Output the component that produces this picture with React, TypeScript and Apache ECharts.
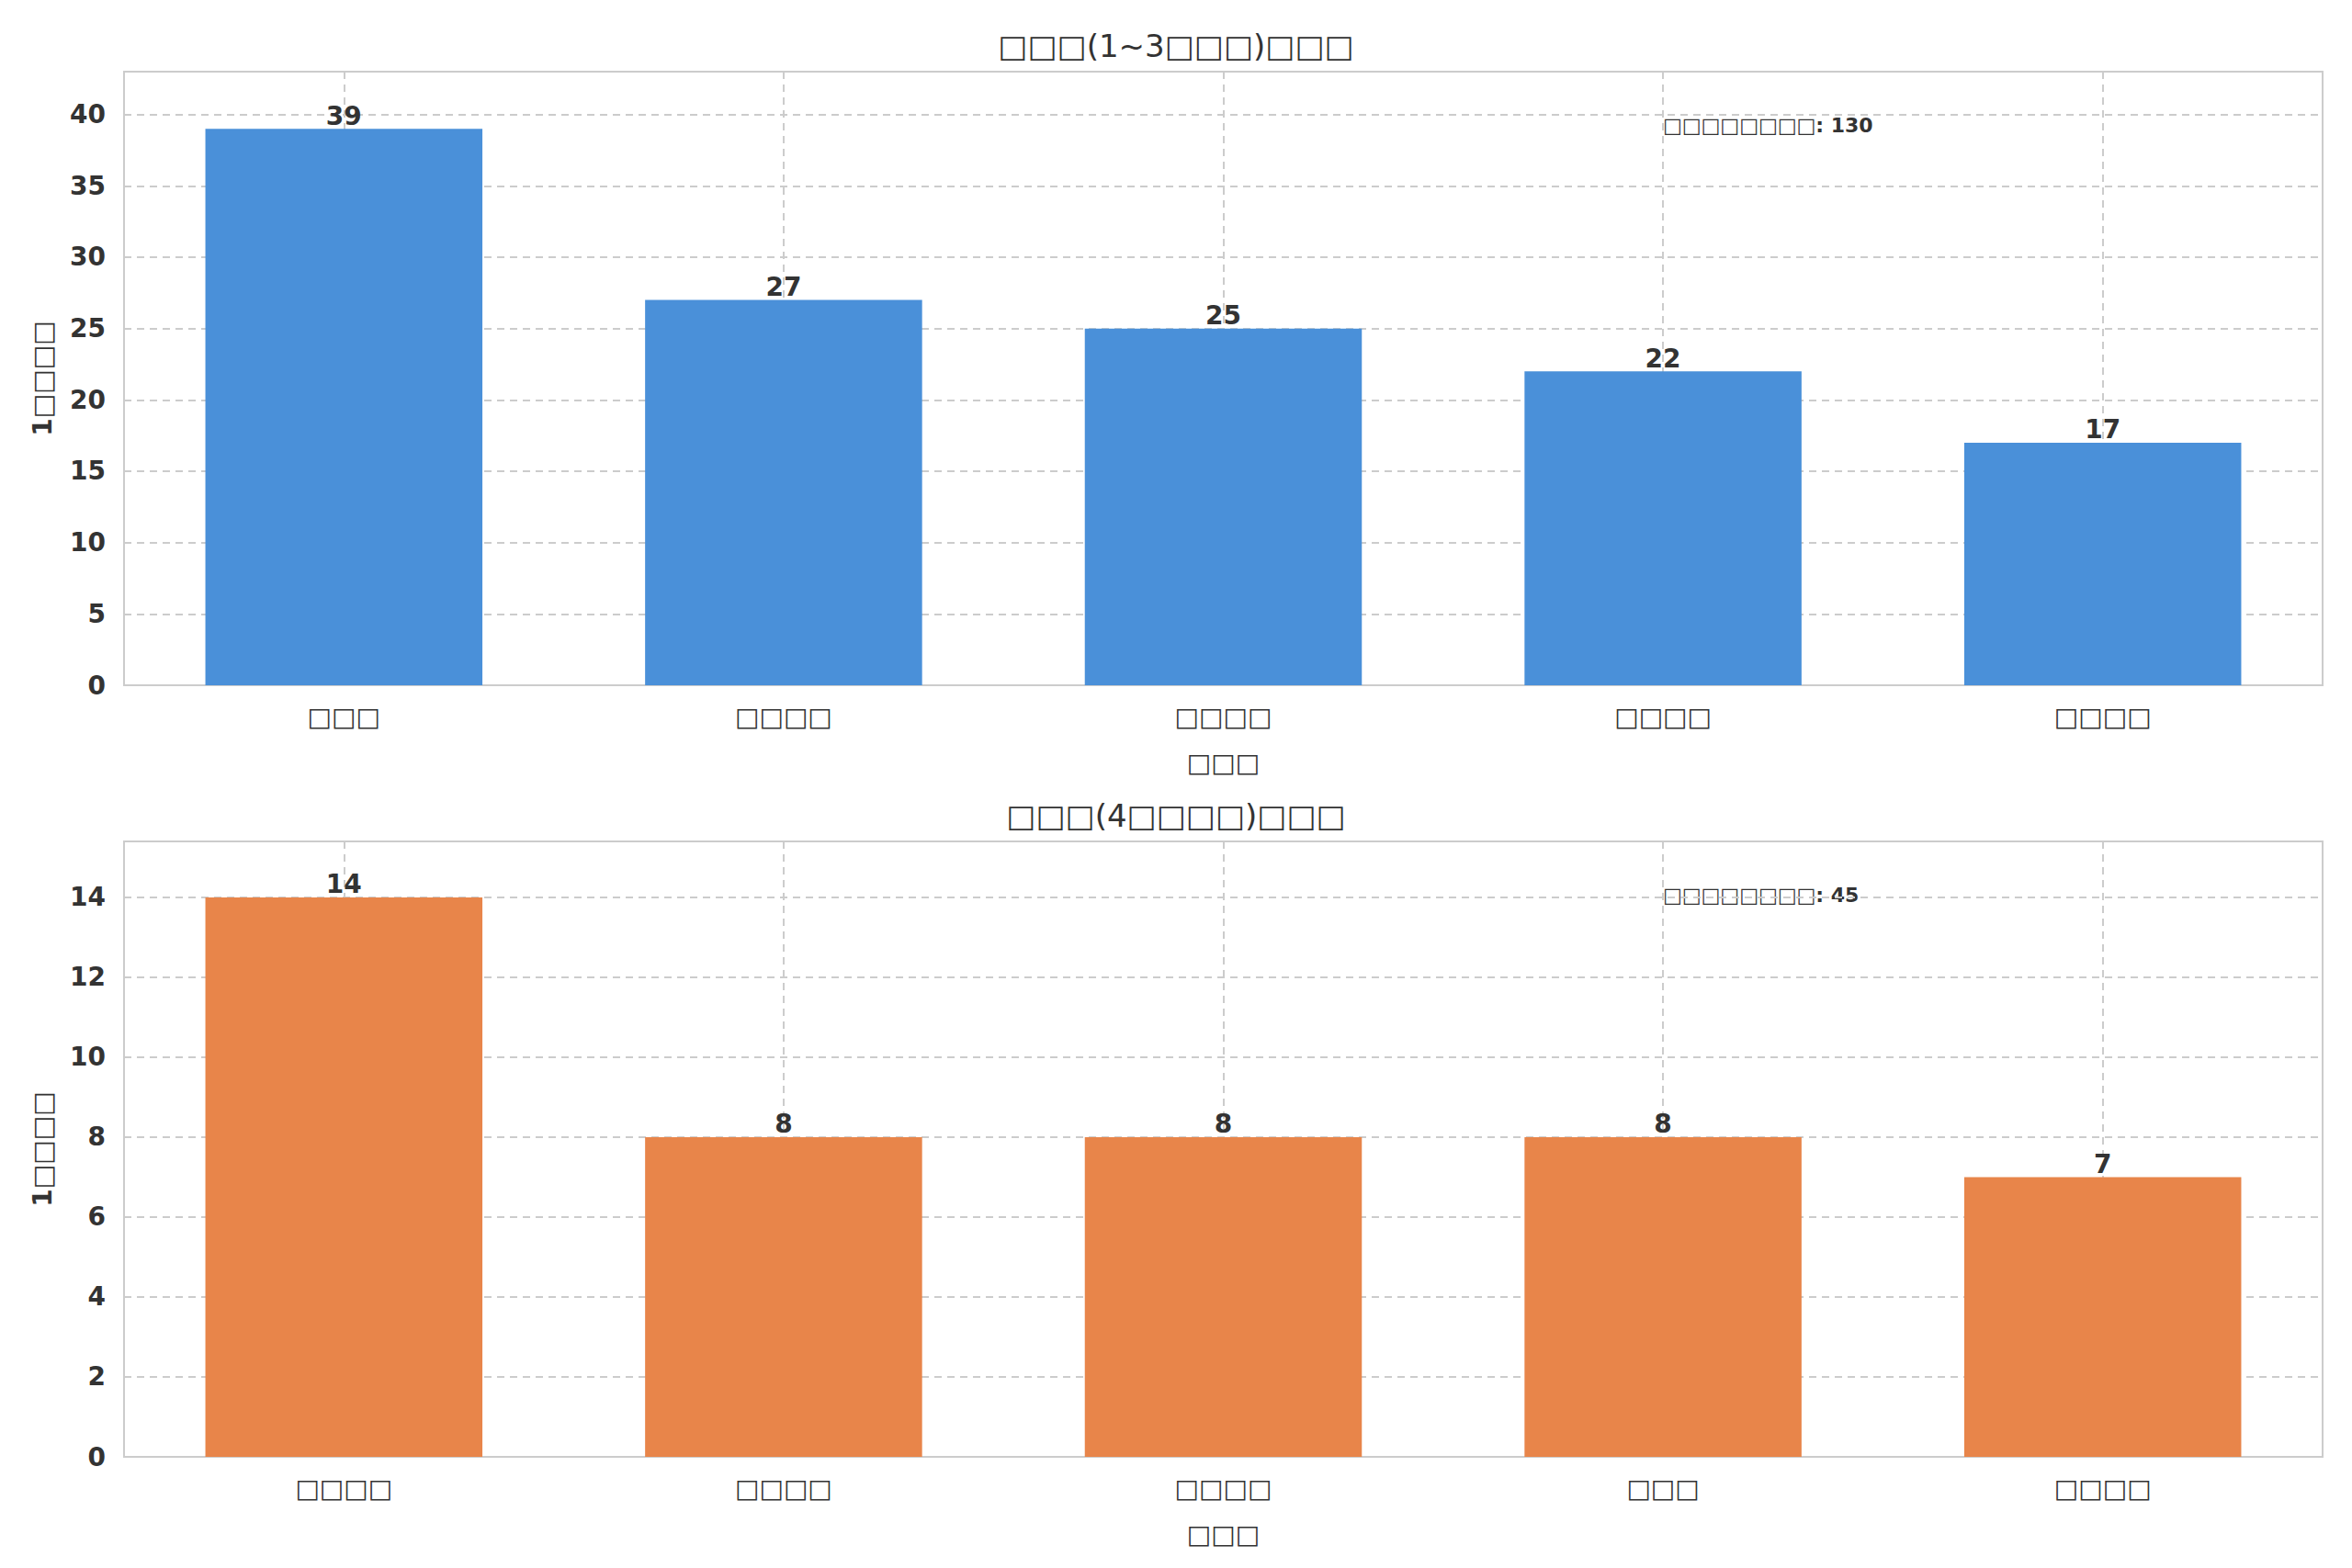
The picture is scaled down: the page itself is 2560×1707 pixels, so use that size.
import React, { useEffect, useRef } from "react";
import * as echarts from "echarts";

const T = "□";
const catsTop = [T.repeat(3), T.repeat(4), T.repeat(4), T.repeat(4), T.repeat(4)];
const valsTop = [39, 27, 25, 22, 17];
const catsBot = [T.repeat(4), T.repeat(4), T.repeat(4), T.repeat(3), T.repeat(4)];
const valsBot = [14, 8, 8, 8, 7];
const titleTop = T.repeat(3) + "(1~3" + T.repeat(3) + ")" + T.repeat(3);
const titleBot = T.repeat(3) + "(4" + T.repeat(4) + ")" + T.repeat(3);
const yName = "1" + T.repeat(4);
const xName = T.repeat(3);
const noteTop = T.repeat(8) + ": 130";
const noteBot = T.repeat(8) + ": 45";

const font = "DejaVu Sans";
const dash = { type: [8, 6] as any, color: "#cccccc", width: 2 };

export default function App() {
  const ref = useRef<HTMLDivElement>(null);
  useEffect(() => {
    const chart = echarts.init(ref.current!, null, { renderer: "svg" });
    const grids = [
      { left: 135, right: 32, top: 78, height: 668 },
      { left: 135, right: 32, top: 916, height: 670 },
    ];
    const xAxis = (cats: string[], i: number) => ({
      type: "category", gridIndex: i, data: cats,
      name: xName, nameLocation: "middle", nameGap: 70,
      nameTextStyle: { fontSize: 28, color: "#333", fontFamily: font },
      axisLine: { lineStyle: { color: "#cccccc", width: 2 } },
      axisTick: { show: false, alignWithLabel: true },
      axisLabel: { fontSize: 28, color: "#333", margin: 20, fontFamily: font },
      splitLine: { show: true, alignWithLabel: true, lineStyle: dash },
    });
    const yAxis = (max: number, interval: number, i: number) => ({
      type: "value", gridIndex: i, min: 0, max, interval,
      name: yName, nameLocation: "middle", nameGap: 75,
      nameTextStyle: { fontSize: 28, color: "#333", fontWeight: "bold", fontFamily: font },
      axisLine: { show: false }, axisTick: { show: false },
      axisLabel: { fontSize: 28, color: "#333", fontWeight: "bold", showMaxLabel: false, fontFamily: font, margin: 20 },
      splitLine: { lineStyle: dash },
    });
    const series = (vals: number[], color: string, i: number) => ({
      type: "bar", xAxisIndex: i, yAxisIndex: i, data: vals, barWidth: "63%",
      itemStyle: { color },
      label: { show: true, position: "top", distance: 0, fontSize: 28, fontWeight: "bold", color: "#333", fontFamily: font },
    });
    chart.setOption({
      animation: false,
      textStyle: { fontFamily: font },
      title: [
        { text: titleTop, left: "center", top: 28, textStyle: { fontSize: 34, fontWeight: "normal", color: "#333", fontFamily: font } },
        { text: titleBot, left: "center", top: 866, textStyle: { fontSize: 34, fontWeight: "normal", color: "#333", fontFamily: font } },
      ],
      grid: grids.map((g) => ({ ...g, show: true, borderColor: "#cccccc", borderWidth: 2 })),
      xAxis: [xAxis(catsTop, 0), xAxis(catsBot, 1)],
      yAxis: [yAxis(43, 5, 0), yAxis(15.4, 2, 1)],
      series: [series(valsTop, "#4A90D9", 0), series(valsBot, "#E8854A", 1)],
      graphic: [
        { type: "text", left: 1810, top: 125, style: { text: noteTop, fontSize: 22, fontWeight: "bold", fill: "#333", fontFamily: font } },
        { type: "text", left: 1810, top: 963, style: { text: noteBot, fontSize: 22, fontWeight: "bold", fill: "#333", fontFamily: font } },
      ],
    });
    return () => chart.dispose();
  }, []);
  return <div ref={ref} style={{ position: "absolute", left: 0, top: 0, width: 2560, height: 1707, background: "#fff" }} />;
}
